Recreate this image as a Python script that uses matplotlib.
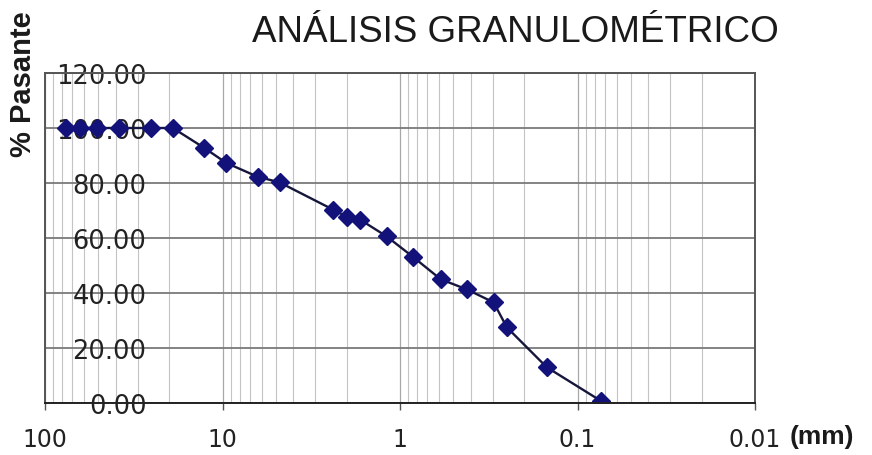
import matplotlib.pyplot as plt
from matplotlib.ticker import FixedLocator, FormatStrFormatter, NullFormatter

# Sieve openings (mm) and % passing
abertura = [76.2, 63.5, 50.8, 38.1, 25.4, 19.05, 12.7, 9.525, 6.35, 4.76,
            2.38, 2.0, 1.68, 1.19, 0.84, 0.59, 0.42, 0.297, 0.25, 0.149, 0.074]
pasante = [100, 100, 100, 100, 100, 100, 92.8, 87.3, 82.3, 80.2,
           70.3, 67.8, 66.7, 60.6, 53.0, 45.0, 41.3, 36.6, 27.5, 13.0, 0.8]

x_ticks = [100, 10, 1, 0.1, 0.01]
x_labels = ["100", "10", "1", "0.1", "0.01"]
y_ticks = [0, 20, 40, 60, 80, 100, 120]

fig = plt.figure(figsize=(8.72, 4.56), dpi=100)
ax = fig.add_axes([45 / 872, 1 - 404 / 456, 710 / 872, 330 / 456])

ax.plot(abertura, pasante, color="#16163c", lw=1.7, marker="D",
        markersize=9, markerfacecolor="#12127a", markeredgecolor="#12127a")

ax.set_xscale("log")
ax.set_xlim(100, 0.01)
ax.set_ylim(0, 120)

# grid: minor verticals light, horizontals darker
minors = [m * 10.0 ** e for e in range(-2, 2) for m in range(2, 10)]
ax.xaxis.set_minor_locator(FixedLocator(minors))
ax.xaxis.set_minor_formatter(NullFormatter())
ax.xaxis.set_major_locator(FixedLocator(x_ticks))
ax.set_xticklabels(x_labels)
ax.grid(True, which="minor", axis="x", color="#c4c4c4", lw=0.8)
ax.grid(True, which="major", axis="x", color="#a8a8a8", lw=0.9)
ax.set_yticks(y_ticks)
ax.yaxis.set_major_formatter(FormatStrFormatter("%.2f"))
ax.grid(True, which="major", axis="y", color="#7a7a7a", lw=1.3)
ax.set_axisbelow(True)

for s in ax.spines.values():
    s.set_color("#555555")
    s.set_linewidth(1.4)
ax.spines["bottom"].set_color("#222222")

ax.tick_params(axis="x", which="major", length=5, width=1, color="#555555",
               labelsize=17, pad=12)
ax.tick_params(axis="x", which="minor", length=0)
ax.tick_params(axis="y", length=0, labelsize=18.5, pad=-73)
for lab in ax.get_xticklabels() + ax.get_yticklabels():
    lab.set_color("#222222")

fig.text(515 / 872, 1 - 33 / 456, "ANÁLISIS GRANULOMÉTRICO", family="Liberation Sans",
         fontsize=26.5, ha="center", va="center", color="#1a1a1a")
fig.text(23 / 872, 1 - 84 / 456, "% Pasante", family="Liberation Sans", fontweight="bold",
         fontsize=21, rotation=90, ha="center", va="center", color="#1a1a1a")
fig.text(822 / 872, 1 - 437 / 456, "(mm)", family="Liberation Sans", fontweight="bold",
         fontsize=19, ha="center", va="center", color="#1a1a1a")

fig.savefig("out.png", dpi=100)
